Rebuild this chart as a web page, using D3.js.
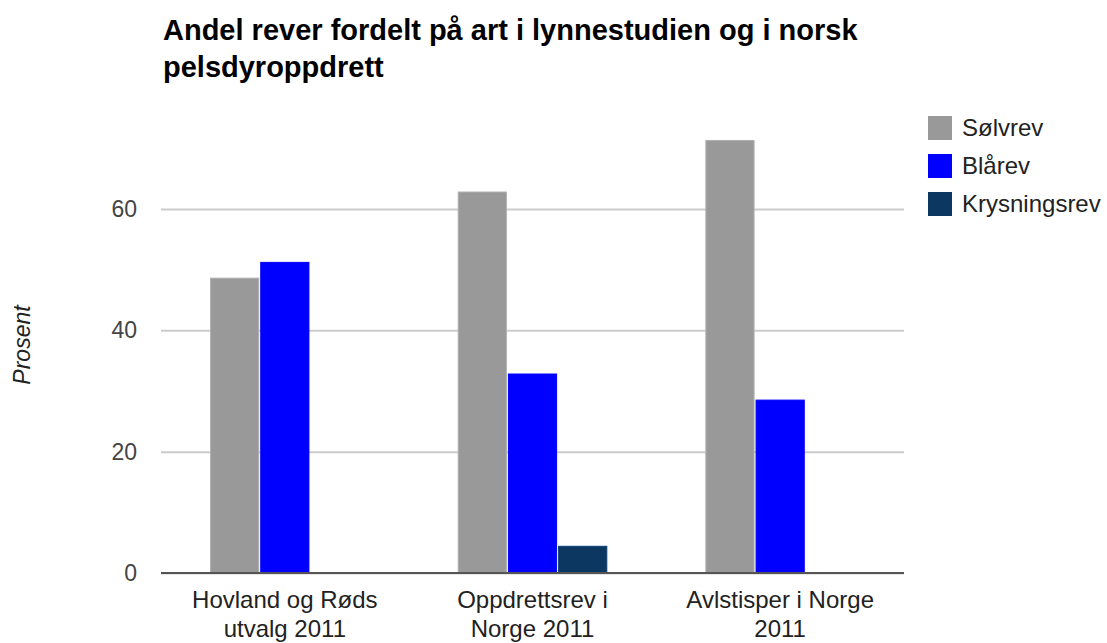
<!DOCTYPE html>
<html>
<head>
<meta charset="utf-8">
<script src="https://cdn.jsdelivr.net/npm/d3@7"></script>
<style>
  body { margin: 0; background: #fff; }
  svg { font-family: "Liberation Sans", Arial, sans-serif; }
</style>
</head>
<body>
<div id="chart"></div>
<script>
// data
var categories = ["Hovland og Røds utvalg 2011", "Oppdrettsrev i Norge 2011", "Avlstisper i Norge 2011"];
var seriesNames = ["Sølvrev", "Blårev", "Krysningsrev"];
var seriesColors = ["#999999", "#0000ff", "#0b3761"];
var solvrev = [48.6, 62.8, 71.3];
var blarev = [51.2, 32.8, 28.5];
var krysningsrev = [null, 4.4, null];
var yTicks = [0, 20, 40, 60];

var title = "Andel rever fordelt på art i lynnestudien og i norsk pelsdyroppdrett";
var yLabel = "Prosent";

var seriesValues = [solvrev, blarev, krysningsrev];

// set the dimensions and margins of the graph
var W = 1107, H = 643;
var margin = {top: 117, right: 203, bottom: 70, left: 161},
    width = W - margin.left - margin.right,
    height = H - margin.top - margin.bottom;

var svg = d3.select("#chart").append("svg")
    .attr("width", W)
    .attr("height", H);

var g = svg.append("g")
    .attr("transform", "translate(" + margin.left + "," + margin.top + ")");

// scales
var x0 = d3.scaleBand()
    .domain(categories)
    .range([0, width])
    .paddingInner(0.4)
    .paddingOuter(0.2);

var x1 = d3.scaleBand()
    .domain(seriesNames)
    .range([0, x0.bandwidth()])
    .paddingInner(0.04);

var y = d3.scaleLinear()
    .domain([0, 60 * height / 364])
    .range([height, 0]);

// gridlines + tick labels
var yAxis = g.append("g")
    .call(d3.axisLeft(y).tickValues(yTicks).tickSize(-width).tickPadding(24));
yAxis.select(".domain").remove();
yAxis.selectAll(".tick line").attr("stroke", "#cccccc").attr("stroke-width", 2);
yAxis.selectAll(".tick text")
    .attr("fill", "#444")
    .style("font-size", "23px");

// bars
var rows = categories.map(function (c, i) {
  return seriesNames.map(function (s, j) {
    return {cat: c, series: s, value: seriesValues[j][i], color: seriesColors[j]};
  });
});

g.append("g")
  .selectAll("g")
  .data(rows)
  .enter().append("g")
    .attr("transform", function (d, i) { return "translate(" + x0(categories[i]) + ",0)"; })
  .selectAll("rect")
  .data(function (d) { return d.filter(function (e) { return e.value != null; }); })
  .enter().append("rect")
    .attr("x", function (d) { return x1(d.series); })
    .attr("y", function (d) { return y(d.value); })
    .attr("width", x1.bandwidth())
    .attr("height", function (d) { return height - y(d.value); })
    .attr("fill", function (d) { return d.color; })
    .attr("stroke", function (d) { return d3.color(d.color).brighter(0.4); })
    .attr("stroke-width", 1);

// baseline
g.append("line")
    .attr("x1", 0).attr("x2", width)
    .attr("y1", y(0)).attr("y2", y(0))
    .attr("stroke", "#555")
    .attr("stroke-width", 2);

// wrap helper
function wrap(textSel, maxWidth, lineHeight) {
  textSel.each(function () {
    var text = d3.select(this),
        words = text.text().split(/\s+/),
        xPos = text.attr("x"),
        line = [],
        tspan = text.text(null).append("tspan").attr("x", xPos).attr("dy", 0);
    words.forEach(function (w) {
      line.push(w);
      tspan.text(line.join(" "));
      if (tspan.node().getComputedTextLength() > maxWidth && line.length > 1) {
        line.pop();
        tspan.text(line.join(" "));
        line = [w];
        tspan = text.append("tspan").attr("x", xPos).attr("dy", lineHeight).text(w);
      }
    });
  });
}

// category labels
g.append("g")
  .selectAll("text")
  .data(categories)
  .enter().append("text")
    .attr("x", function (d) { return x0(d) + x0.bandwidth() / 2; })
    .attr("y", height + 35)
    .attr("text-anchor", "middle")
    .attr("fill", "#222")
    .style("font-size", "24px")
    .text(function (d) { return d; })
    .call(wrap, 215, 29);

// y axis title
svg.append("text")
    .attr("transform", "translate(30," + 345 + ") rotate(-90)")
    .attr("text-anchor", "middle")
    .attr("fill", "#222")
    .style("font-size", "23px")
    .style("font-style", "italic")
    .text(yLabel);

// title
svg.append("text")
    .attr("x", 163)
    .attr("y", 40)
    .attr("fill", "#000")
    .style("font-size", "29px")
    .style("font-weight", "bold")
    .text(title)
    .call(wrap, 740, 37);

// legend
var legend = svg.append("g")
  .selectAll("g")
  .data(seriesNames)
  .enter().append("g")
    .attr("transform", function (d, i) { return "translate(928," + (116 + i * 38) + ")"; });

legend.append("rect")
    .attr("width", 24)
    .attr("height", 24)
    .attr("fill", function (d, i) { return seriesColors[i]; });

legend.append("text")
    .attr("x", 34)
    .attr("y", 20)
    .attr("fill", "#222")
    .style("font-size", "24px")
    .text(function (d) { return d; });
</script>
</body>
</html>
